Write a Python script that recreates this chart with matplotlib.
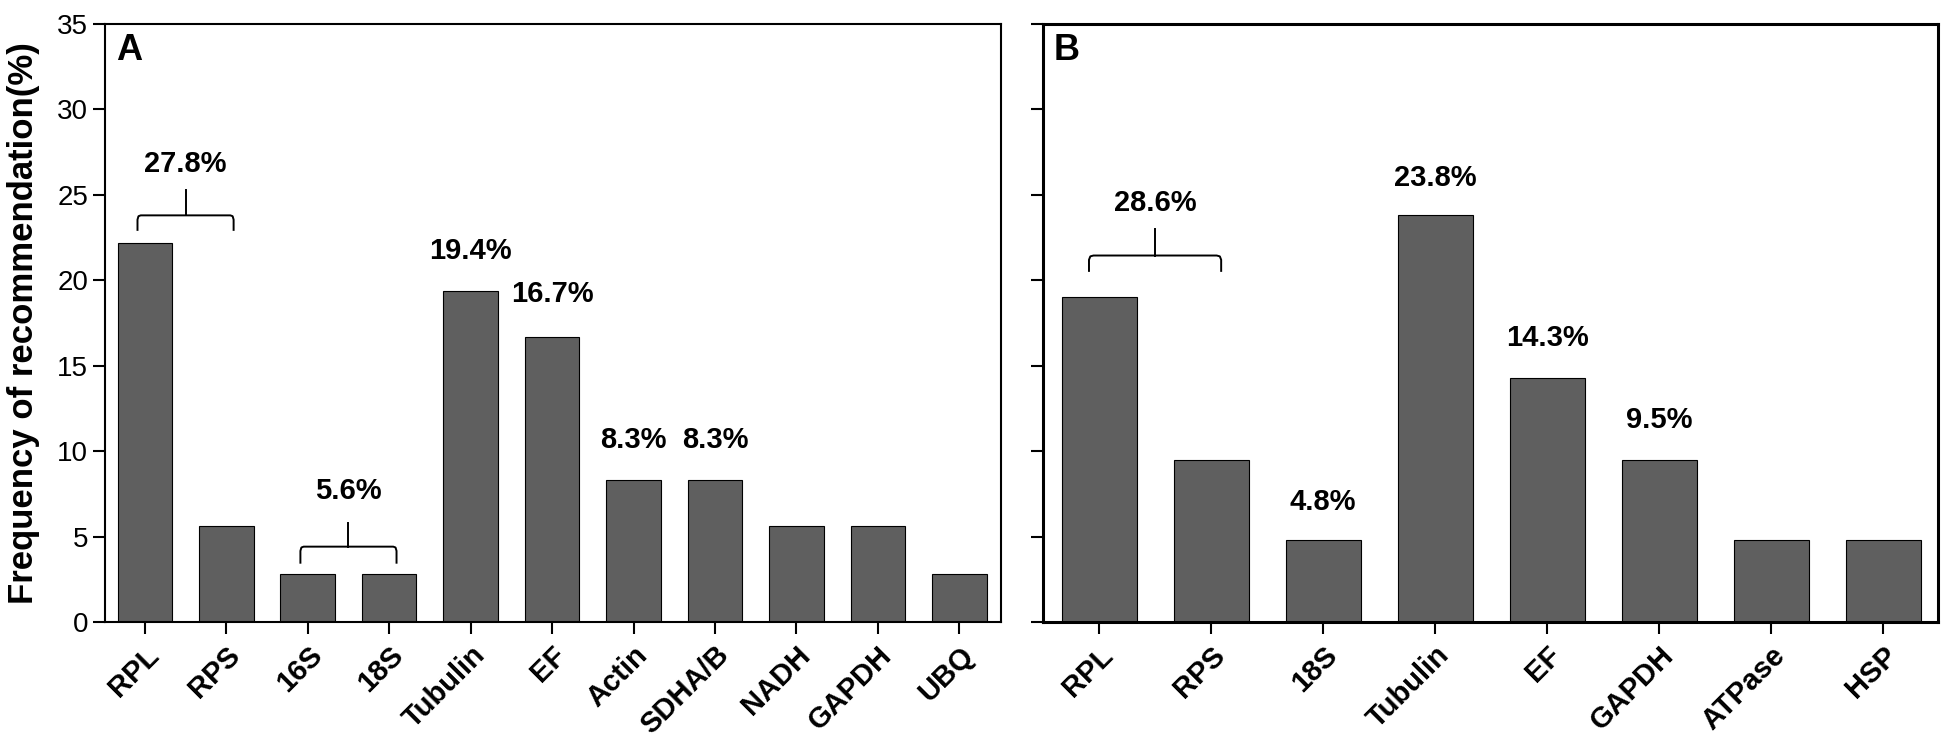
import matplotlib
matplotlib.use("Agg")
import matplotlib.pyplot as plt

plt.rcParams["font.family"] = ["Liberation Sans", "DejaVu Sans"]

# panel A data
genes_a = ["RPL", "RPS", "16S", "18S", "Tubulin", "EF", "Actin", "SDHA/B", "NADH", "GAPDH", "UBQ"]
freq_a = [22.2, 5.6, 2.8, 2.8, 19.4, 16.7, 8.3, 8.3, 5.6, 5.6, 2.8]

# panel B data
genes_b = ["RPL", "RPS", "18S", "Tubulin", "EF", "GAPDH", "ATPase", "HSP"]
freq_b = [19.0, 9.5, 4.8, 23.8, 14.3, 9.5, 4.8, 4.8]

# single-bar labels: (bar index, text, label height)
labels_a = [(4, "19.4%", 21.7), (5, "16.7%", 19.2), (6, "8.3%", 10.65), (7, "8.3%", 10.65)]
labels_b = [(2, "4.8%", 7.0), (3, "23.8%", 26.0), (4, "14.3%", 16.6), (5, "9.5%", 11.8)]

# grouped labels with bracket: (first idx, last idx, text, end, line, spike, text height)
groups_a = [(0, 1, "27.8%", 22.95, 23.8, 25.3, 26.8), (2, 3, "5.6%", 3.47, 4.41, 5.81, 7.64)]
groups_b = [(0, 1, "28.6%", 20.55, 21.45, 23.0, 24.5)]

BAR_COLOR = "#5f5f5f"


def draw_bracket(ax, i0, i1, y_end, y_line, y_spike):
    x0 = i0 - 0.09
    x1 = i1 + 0.09
    xm = (i0 + i1) / 2
    r = 0.04
    # small rounded corners at both ends
    xs = [x0, x0, x0 + r * 0.3, x0 + r, x1 - r, x1 - r * 0.3, x1, x1]
    ys = [y_end, y_line - 0.25, y_line - 0.05, y_line, y_line, y_line - 0.05, y_line - 0.25, y_end]
    ax.plot(xs, ys, color="black", lw=1.4, solid_joinstyle="round", clip_on=False)
    ax.plot([xm, xm], [y_line, y_spike], color="black", lw=1.4)


def draw_panel(ax, genes, freq, labels, groups, letter, spine_lw, xlim):
    x = list(range(len(genes)))
    ax.bar(x, freq, width=0.67, color=BAR_COLOR, edgecolor="black", linewidth=0.8)

    for idx, txt, y in labels:
        ax.text(idx, y, txt, ha="center", va="center", fontsize=21, fontweight="bold")

    for i0, i1, txt, y_end, y_line, y_spike, y_txt in groups:
        draw_bracket(ax, i0, i1, y_end, y_line, y_spike)
        ax.text((i0 + i1) / 2, y_txt, txt, ha="center", va="center", fontsize=21, fontweight="bold")

    ax.set_xlim(*xlim)
    ax.set_ylim(0, 35)
    ax.set_yticks([0, 5, 10, 15, 20, 25, 30, 35])
    ax.set_xticks(x)
    ax.set_xticklabels(genes, rotation=45, ha="right", va="top", rotation_mode="anchor",
                       fontsize=21, fontweight="bold")
    ax.tick_params(axis="both", direction="out", length=8.6, width=1.5, labelsize=20)
    ax.tick_params(axis="x", pad=5, labelsize=21)
    for sp in ax.spines.values():
        sp.set_linewidth(spine_lw)
    ax.text(0.012, 0.985, letter, transform=ax.transAxes, ha="left", va="top",
            fontsize=26, fontweight="bold")


fig = plt.figure(figsize=(19.5, 7.41), dpi=100)
ax_a = fig.add_axes([0.0538, 0.1606, 0.4595, 0.807])
ax_b = fig.add_axes([0.5349, 0.1606, 0.4590, 0.807])

draw_panel(ax_a, genes_a, freq_a, labels_a, groups_a, "A", 1.5, (-0.49, 10.51))
draw_panel(ax_b, genes_b, freq_b, labels_b, groups_b, "B", 2.2, (-0.5, 7.49))

ax_b.set_yticklabels([])
ax_a.set_ylabel("Frequency of recommendation(%)", fontsize=25, fontweight="bold", labelpad=12)

fig.savefig("out.png", dpi=100)
